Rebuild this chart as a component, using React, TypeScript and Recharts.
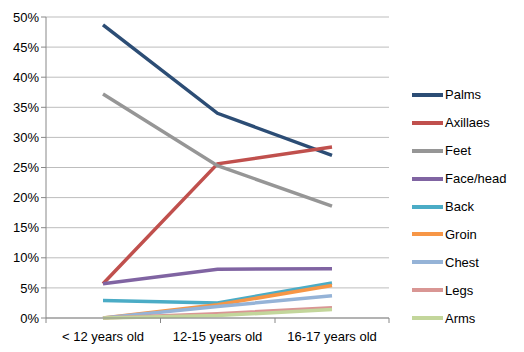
import { LineChart, Line, XAxis, YAxis, CartesianGrid } from 'recharts'

const categories = ['< 12 years old', '12-15 years old', '16-17 years old']

const palms = [48.7, 34.0, 27.0]
const axillaes = [5.7, 25.6, 28.4]
const feet = [37.2, 25.3, 18.6]
const faceHead = [5.7, 8.1, 8.2]
const back = [2.9, 2.5, 5.8]
const groin = [0.0, 2.2, 5.4]
const chest = [0.0, 1.9, 3.7]
const legs = [0.0, 0.7, 1.7]
const arms = [0.0, 0.4, 1.4]

const yTicks = [0, 5, 10, 15, 20, 25, 30, 35, 40, 45, 50]

const SERIES = [
  { name: 'Palms', values: palms, color: '#2C4D75' },
  { name: 'Axillaes', values: axillaes, color: '#C0504D' },
  { name: 'Feet', values: feet, color: '#969696' },
  { name: 'Face/head', values: faceHead, color: '#8064A2' },
  { name: 'Back', values: back, color: '#4BACC6' },
  { name: 'Groin', values: groin, color: '#F79646' },
  { name: 'Chest', values: chest, color: '#95B3D7' },
  { name: 'Legs', values: legs, color: '#D99694' },
  { name: 'Arms', values: arms, color: '#C3D69B' },
]

const FONT = '"Liberation Sans", Arial, sans-serif'
const HALF_BAND = 57

const data = categories.map((c, i) => {
  const row: Record<string, string | number> = { label: c }
  SERIES.forEach((s) => {
    row[s.name] = s.values[i]
  })
  return row
})

// x axis ticks sit between categories, like the spreadsheet chart
function CategoryTick({ x, y, payload, index }: any) {
  return (
    <g>
      <line x1={x - HALF_BAND} y1={y} x2={x - HALF_BAND} y2={y + 5} stroke="#888" />
      {index === categories.length - 1 && (
        <line x1={x + HALF_BAND} y1={y} x2={x + HALF_BAND} y2={y + 5} stroke="#888" />
      )}
      <text x={x} y={y + 23} textAnchor="middle" fontSize={13} fontFamily={FONT} fill="#000">
        {payload.value}
      </text>
    </g>
  )
}

function LegendList() {
  return (
    <div
      style={{
        position: 'absolute',
        left: 412,
        top: 81,
        width: 112,
        fontFamily: FONT,
        fontSize: 13,
        color: '#000',
      }}
    >
      {SERIES.map((s) => (
        <div key={s.name} style={{ display: 'flex', alignItems: 'center', height: 27.9 }}>
          <div style={{ width: 31, height: 4, background: s.color, marginRight: 2 }} />
          <span>{s.name}</span>
        </div>
      ))}
    </div>
  )
}

export default function App() {
  return (
    <div style={{ position: 'absolute', left: 0, top: 0, width: 524, height: 352, background: '#fff' }}>
      <LineChart
        width={524}
        height={352}
        data={data}
        margin={{ top: 17, right: 135, left: 0, bottom: 0 }}
      >
        <CartesianGrid vertical={false} stroke="#BDBDBD" />
        <XAxis
          dataKey="label"
          padding={{ left: HALF_BAND, right: HALF_BAND }}
          height={34}
          axisLine={{ stroke: '#888' }}
          tickLine={false}
          tickSize={0}
          tickMargin={0}
          tick={<CategoryTick />}
          interval={0}
        />
        <YAxis
          width={46}
          domain={[0, 50]}
          ticks={yTicks}
          tickFormatter={(v) => `${v}%`}
          axisLine={{ stroke: '#888' }}
          tickLine={{ stroke: '#888' }}
          tickSize={5}
          tick={{ fontSize: 13, fontFamily: FONT, fill: '#000' }}
        />
        {SERIES.map((s) => (
          <Line
            key={s.name}
            dataKey={s.name}
            type="linear"
            stroke={s.color}
            strokeWidth={3.5}
            dot={false}
            isAnimationActive={false}
          />
        ))}
      </LineChart>
      <LegendList />
    </div>
  )
}
